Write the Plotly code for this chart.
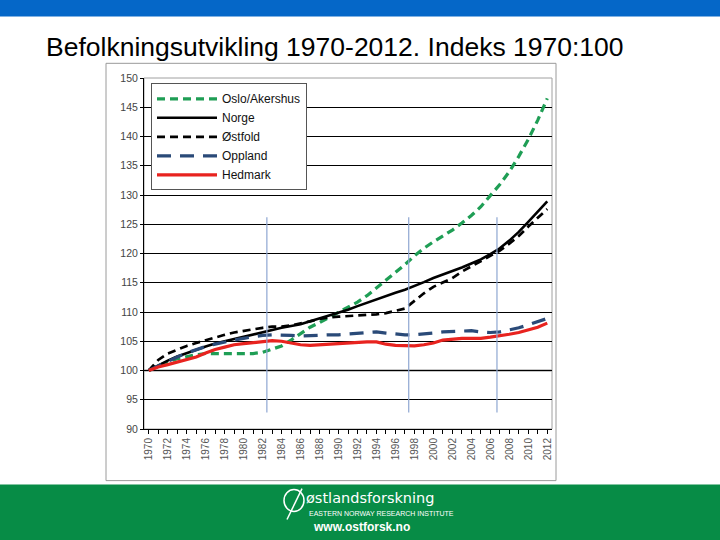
import plotly.graph_objects as go

years = list(range(1970, 2013))

oslo_akershus = [100.0, 100.8, 101.5, 102.0, 102.4, 102.7, 102.9, 102.9, 102.8, 102.8,
                 102.8, 102.9, 103.1, 103.6, 104.2, 105.2, 106.3, 107.4, 108.2, 109.1,
                 109.9, 110.8, 111.7, 112.8, 114.1, 115.4, 116.8, 118.1, 119.6, 120.9,
                 122.0, 123.0, 124.0, 125.2, 126.5, 128.0, 129.8, 131.8, 134.0, 136.6,
                 139.5, 142.8, 146.5]
norge = [100.0, 100.9, 101.7, 102.4, 103.0, 103.6, 104.1, 104.6, 105.0, 105.4,
         105.8, 106.2, 106.6, 107.0, 107.3, 107.6, 107.9, 108.4, 108.9, 109.3,
         109.8, 110.4, 111.0, 111.6, 112.2, 112.8, 113.3, 113.8, 114.4, 115.1,
         115.8, 116.4, 116.9, 117.6, 118.3, 119.0, 119.9, 120.9, 122.2, 123.7,
         125.4, 127.2, 128.9]
ostfold = [100.0, 101.8, 102.9, 103.6, 104.2, 104.7, 105.2, 105.7, 106.1, 106.5,
           106.8, 107.1, 107.3, 107.5, 107.5, 107.7, 108.0, 108.4, 108.8, 109.1,
           109.2, 109.3, 109.4, 109.4, 109.6, 109.8, 110.2, 110.6, 111.9, 113.2,
           114.3, 115.0, 115.8, 116.9, 117.8, 118.7, 119.6, 120.5, 121.7, 123.0,
           124.6, 126.1, 127.6]
oppland = [100.0, 100.8, 101.6, 102.3, 103.0, 103.6, 104.1, 104.5, 104.9, 105.2,
           105.5, 105.8, 106.0, 106.1, 106.1, 106.0, 105.9, 106.0, 106.1, 106.1,
           106.1, 106.2, 106.3, 106.5, 106.6, 106.4, 106.2, 106.1, 106.1, 106.2,
           106.4, 106.6, 106.7, 106.8, 106.8, 106.6, 106.5, 106.6, 106.9, 107.3,
           107.8, 108.3, 108.9]
hedmark = [100.0, 100.6, 101.0, 101.4, 101.8, 102.3, 103.0, 103.6, 104.0, 104.4,
           104.6, 104.8, 105.0, 105.1, 105.0, 104.7, 104.4, 104.3, 104.4, 104.5,
           104.6, 104.8, 104.9, 104.9, 104.9, 104.5, 104.3, 104.2, 104.2, 104.4,
           104.7, 105.2, 105.4, 105.5, 105.5, 105.5, 105.7, 105.9, 106.2, 106.5,
           106.9, 107.4, 108.1]

x_tick_years = years[::2]
x_tick_labels = [str(y) for y in x_tick_years]
y_ticks = list(range(90, 155, 5))
marker_years = [1982.45, 1997.4, 2006.7]
marker_span = [92.8, 126.2]

title_text = "Befolkningsutvikling 1970-2012. Indeks 1970:100"

FONT = "Liberation Sans, Arial, sans-serif"

# plot area in pixels
L, R, T, B = 144, 552, 77.7, 429.3
W, H = 720, 540


def px(xp):
    return (xp - L) / (R - L)


def py(yp):
    return (B - yp) / (B - T)


fig = go.Figure()

series = [
    ("Oslo/Akershus", oslo_akershus, dict(color="#1f9e55", width=3.2, dash="8px,5px")),
    ("Norge", norge, dict(color="#000000", width=2.6)),
    ("Østfold", ostfold, dict(color="#000000", width=2.7, dash="8px,5px")),
    ("Oppland", oppland, dict(color="#2a4a78", width=3.2, dash="14px,9px")),
    ("Hedmark", hedmark, dict(color="#e8231f", width=3.2)),
]
for name, vals, line in series:
    fig.add_trace(go.Scatter(x=years, y=vals, mode="lines", name=name, line=line))

shapes = []
# outer chart frame
shapes.append(dict(type="rect", xref="paper", yref="paper",
                   x0=px(106), x1=px(556), y0=py(481), y1=py(63),
                   line=dict(color="#9a9a9a", width=1), fillcolor="rgba(0,0,0,0)", layer="below"))
# 100 reference line (light grey)
shapes.append(dict(type="line", xref="paper", yref="y", x0=0, x1=1, y0=100, y1=100,
                   line=dict(color="#b4b4b4", width=2.5), layer="below"))
# vertical markers
for yr in marker_years:
    shapes.append(dict(type="line", xref="x", yref="y", x0=yr, x1=yr,
                       y0=marker_span[0], y1=marker_span[1],
                       line=dict(color="#8ea6d2", width=1.2), layer="above"))
# plot area border (top/right grey)
shapes.append(dict(type="rect", xref="paper", yref="paper", x0=0, x1=1, y0=0, y1=1,
                   line=dict(color="#a0a0a0", width=1), fillcolor="rgba(0,0,0,0)", layer="below"))
# top blue bar
shapes.append(dict(type="rect", xref="paper", yref="paper",
                   x0=px(-5), x1=px(W + 5), y0=py(16), y1=py(-5),
                   line=dict(width=0), fillcolor="#0567c8", layer="below"))
# bottom green bar
shapes.append(dict(type="rect", xref="paper", yref="paper",
                   x0=px(-5), x1=px(W + 5), y0=py(H + 5), y1=py(485),
                   line=dict(width=0), fillcolor="#078c46", layer="below"))
# logo circle + stroke
shapes.append(dict(type="circle", xref="paper", yref="paper",
                   x0=px(284), x1=px(304), y0=py(512), y1=py(490),
                   line=dict(color="white", width=1.5)))
shapes.append(dict(type="line", xref="paper", yref="paper",
                   x0=px(287), x1=px(302), y0=py(520), y1=py(489),
                   line=dict(color="white", width=1.5)))

annotations = [
    dict(text=title_text, xref="paper", yref="paper", x=px(44), y=py(47),
         xanchor="left", yanchor="middle", showarrow=False,
         font=dict(family=FONT, size=26.5, color="#000000")),
    dict(text="østlandsforskning", xref="paper", yref="paper", x=px(304), y=py(498),
         xanchor="left", yanchor="middle", showarrow=False,
         font=dict(family="DejaVu Sans, sans-serif", size=14.5, color="white")),
    dict(text="EASTERN NORWAY RESEARCH INSTITUTE", xref="paper", yref="paper", x=px(307), y=py(514),
         xanchor="left", yanchor="middle", showarrow=False,
         font=dict(family=FONT, size=7, color="white")),
    dict(text="<b>www.ostforsk.no</b>", xref="paper", yref="paper", x=px(311), y=py(527),
         xanchor="left", yanchor="middle", showarrow=False,
         font=dict(family=FONT, size=12, color="white")),
]

fig.update_layout(
    width=W, height=H,
    margin=dict(l=L, r=W - R, t=T, b=H - B, pad=0),
    paper_bgcolor="white", plot_bgcolor="white",
    font=dict(family=FONT, color="#000000"),
    showlegend=True,
    legend=dict(x=px(151), y=py(83), xanchor="left", yanchor="top",
                bgcolor="white", bordercolor="#555555", borderwidth=1,
                font=dict(family=FONT, size=12, color="#111111"),
                itemwidth=60, tracegroupgap=0),
    shapes=shapes,
    annotations=annotations,
)

fig.update_xaxes(range=[1969.5, 2012.5], tickmode="array", tickvals=x_tick_years,
                 ticktext=x_tick_labels, tickangle=-90, ticks="outside", ticklen=4,
                 tickcolor="#000000", showgrid=False, showline=True, linecolor="#000000",
                 linewidth=1, zeroline=False,
                 tickfont=dict(family=FONT, size=10, color="#555555"),
                 minor=dict(dtick=1, tick0=1970, ticks="outside", ticklen=4, tickcolor="#000000"))
fig.update_yaxes(range=[90, 150], tickmode="array", tickvals=y_ticks, ticks="outside",
                 ticklen=3, tickcolor="#000000", showgrid=True, gridcolor="#000000",
                 gridwidth=1, showline=True, linecolor="#000000", linewidth=1,
                 zeroline=False, tickfont=dict(family=FONT, size=10.5, color="#444444"))

fig.write_html("out.html", config={"displayModeBar": False},
               post_script="document.body.style.margin='0px';document.body.style.overflow='hidden';")
